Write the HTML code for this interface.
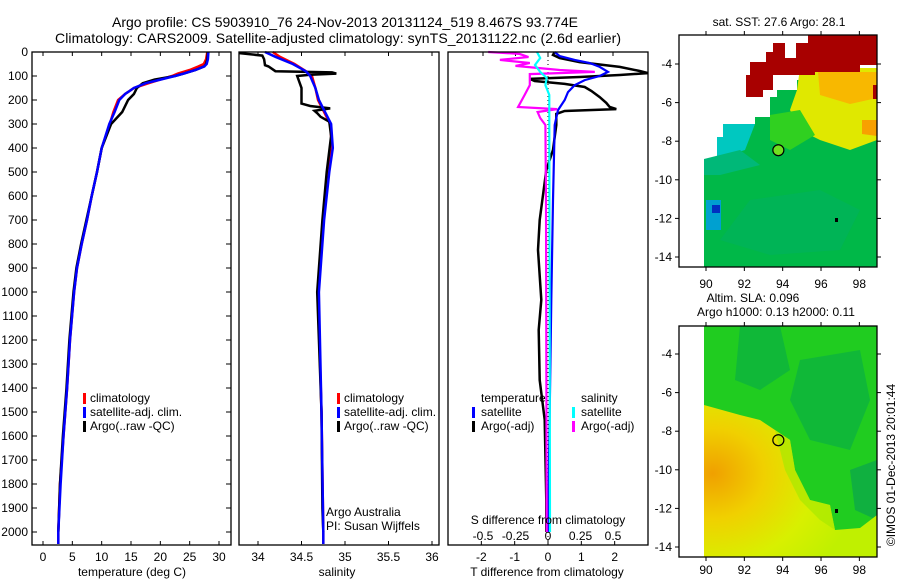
<!DOCTYPE html>
<html><head><meta charset="utf-8"><style>
body{margin:0;background:#fff;}
svg{display:block;font-family:"Liberation Sans",sans-serif;}
text{fill:#000;}
</style></head><body>
<svg id="fig" width="900" height="580" viewBox="0 0 900 580" xmlns="http://www.w3.org/2000/svg">
<text x="345" y="27" font-size="14" text-anchor="middle">Argo profile: CS 5903910_76 24-Nov-2013 20131124_519 8.467S 93.774E</text>
<text x="338" y="43" font-size="14" text-anchor="middle" textLength="566">Climatology: CARS2009. Satellite-adjusted climatology: synTS_20131122.nc (2.6d earlier)</text>
<text x="779" y="26" font-size="12" text-anchor="middle">sat. SST: 27.6 Argo: 28.1</text>
<text x="753" y="302" font-size="12" text-anchor="middle">Altim. SLA: 0.096</text>
<text x="776" y="316" font-size="12" text-anchor="middle">Argo h1000: 0.13 h2000: 0.11</text>
<text transform="translate(895,465) rotate(-90)" font-size="12" text-anchor="middle">©IMOS 01-Dec-2013 20:01:44</text>
<g id="g"></g>
</svg>
<script>
// ---- data ----
const tempDepthClim = [0,30,50,60,75,90,100,115,130,150,175,200,250,300,400,500,600,700,800,900,1000,1200,1400,1600,1800,2000,2050];
const tempClim = [28,27.8,27.4,26.5,25,23,22,20,18,15.5,14,12.8,12,11.4,10,9.2,8.3,7.5,6.6,5.8,5.3,4.6,4.1,3.5,2.9,2.6,2.6];
const tempSat = [28.2,28.1,27.9,27.5,26,24,22.5,20,17.5,15.5,14,13,12.2,11.3,10,9.2,8.3,7.5,6.6,5.8,5.3,4.6,4.1,3.5,3,2.6,2.6];
const tempDepthArgo = [0,30,50,60,75,90,100,115,130,150,175,200,250,300,400,500,600,700,800,900,1000,1200,1400,1600,1800,2000];
const tempArgo = [28.1,28,27.8,27.5,26,24,22.5,19,17,16,15.5,14.5,13.5,11.6,10,9.2,8.3,7.4,6.5,5.7,5.2,4.5,4,3.4,2.9,2.6];
const salDepthClim = [0,20,50,80,100,150,200,250,300,400,500,700,1000,1500,2000,2050];
const salClim = [34.17,34.25,34.42,34.55,34.62,34.66,34.69,34.76,34.83,34.85,34.8,34.75,34.69,34.73,34.75,34.75];
const salSat = [34.08,34.2,34.4,34.55,34.6,34.66,34.7,34.77,34.84,34.86,34.82,34.76,34.7,34.73,34.75,34.75];
const salDepthArgo = [0,5,15,30,55,60,80,85,90,95,100,150,215,225,235,245,255,270,290,350,500,700,1000,1500,1900,2000];
const salArgo = [33.8,33.8,34.05,34.07,34.08,34.12,34.2,34.85,34.9,34.6,34.45,34.5,34.5,34.6,34.83,34.65,34.68,34.72,34.82,34.84,34.79,34.74,34.68,34.73,34.74,34.75];
const tdArgoDepth = [0,12,25,42,62,79,88,96,104,112,121,133,146,162,188,212,229,238,246,258,304,408,492,700,825,1033,1158,1367,1533,1867,2000];
const tdArgo = [0.2,0.15,0.35,0.95,2.15,2.75,3.0,2.15,0.95,-0.55,-0.4,0.5,1.1,1.3,1.55,1.75,1.85,2.05,0.5,0.25,0.25,0.15,-0.05,-0.25,-0.3,-0.2,-0.28,-0.25,-0.1,-0.05,-0.05];
const tdSatDepth = [0,17,33,46,62,83,100,117,138,167,200,242,304,617,1033,2000];
const tdSat = [0.2,0.35,0.8,1.25,1.55,1.8,1.55,1.1,0.8,0.6,0.5,0.3,0.2,0.15,0.1,0];
const sdArgoDepth = [0,8,21,33,46,58,75,83,92,108,138,179,229,238,250,275,304,617,2000];
const sdArgo = [-0.46,-0.22,-0.15,-0.37,-0.14,-0.25,0.09,0.36,-0.14,-0.14,-0.14,-0.18,-0.23,0.07,-0.08,-0.06,-0.02,-0.015,-0.01];
const sdSatDepth = [0,25,54,83,108,138,179,283,2000];
const sdSat = [-0.085,-0.06,-0.1,-0.06,-0.01,-0.02,0.01,0.01,0.015];
const depthTicks = [0,100,200,300,400,500,600,700,800,900,1000,1100,1200,1300,1400,1500,1600,1700,1800,1900,2000];
const tempTicks = [0,5,10,15,20,25,30];
const salTicks = ["34","34.5","35","35.5","36"];
const tdTicks = [-2,-1,0,1,2];
const sdTicks = ["-0.5","-0.25","0","0.25","0.5"];
const lonTicks = [90,92,94,96,98];
const latTicks = [-4,-6,-8,-10,-12,-14];
const argoLon = 93.774, argoLat = -8.467;

// ---- scales ----
const yD = d => 52 + d*0.24;
const xT = t => 43 + t*5.867;
const xS = s => 258 + (s-34)*87;
const xTd = v => 548 + v*33.33;
const xSd = v => 548 + v*130;
const mx = lon => 706 + (lon-90)*19.17;
const my1 = la => 64 + (-4-la)*19.3;
const my2 = la => 354 + (-4-la)*19.3;

const NS="http://www.w3.org/2000/svg", G=document.getElementById('g');
function el(tag, attrs, parent){const e=document.createElementNS(NS,tag);for(const k in attrs)e.setAttribute(k,attrs[k]);(parent||G).appendChild(e);return e;}
function txt(x,y,s,anchor,size){const t=el('text',{x:x,y:y,'font-size':size||12,'text-anchor':anchor||'start'});t.textContent=s;return t;}
function line(xs,ds,xf,color,w,name){
  const pts=xs.map((v,i)=>xf(v).toFixed(1)+','+yD(ds[i]).toFixed(1)).join(' ');
  const p=el('polyline',{points:pts,fill:'none',stroke:color,'stroke-width':w||2.5,'stroke-linejoin':'miter'});
  
  
}

// ---- maps ----
function sstMap(){
  const gm=el('g',{});
  
  
  el('polygon',{points:'704,159 717,159 717,137 723,137 723,124 755,124 755,117 770,117 770,97 777,97 777,90 797,90 797,80 877,80 877,267 704,267',fill:'#00b848'},gm);
  el('polygon',{points:'800,68 877,68 877,140 850,150 820,140 800,130 790,110 797,90',fill:'#e0e800'},gm);
  el('polygon',{points:'818,72 877,72 877,98 850,104 820,95',fill:'#f8b800'},gm);
  el('polygon',{points:'862,120 877,120 877,136 862,134',fill:'#f8a000'},gm);
  el('polygon',{points:'770,115 800,110 815,135 790,150 770,140',fill:'#30d020'},gm);
  el('polygon',{points:'723,124 755,124 745,150 717,159 717,137 723,137',fill:'#00c8c0'},gm);
  el('polygon',{points:'704,159 740,150 760,165 720,175 704,175',fill:'#00b878'},gm);
  el('rect',{x:706,y:200,width:15,height:30,fill:'#00a0d0'},gm);
  el('rect',{x:712,y:205,width:8,height:8,fill:'#0030c0'},gm);
  el('polygon',{points:'750,200 820,190 860,210 840,250 770,255 720,240',fill:'#00b060',opacity:0.6},gm);
  el('polygon',{points:'750,62 766,62 766,52 773,52 773,43 785,43 785,58 796,58 796,43 808,43 808,35 877,35 877,65 860,65 860,72 815,72 815,75 773,75 773,90 763,90 763,97 746,97 746,75 750,75',fill:'#a80000'},gm);
  el('rect',{x:873,y:85,width:4,height:14,fill:'#a80000'},gm);
  const c=el('circle',{cx:mx(argoLon),cy:my1(argoLat),r:5.5,fill:'#70e020',stroke:'#000','stroke-width':1.2});
  
  
  el('rect',{x:835,y:218,width:3,height:4,fill:'#000'});
}
function slaMap(){
  const gm=el('g',{});
  
  
  const defs=el('defs',{});
  const rg=el('radialGradient',{id:'rg',cx:'0.05',cy:'0.45',r:'0.85'},defs);
  el('stop',{offset:'0','stop-color':'#f0a000'},rg);
  el('stop',{offset:'0.35','stop-color':'#f0d000'},rg);
  el('stop',{offset:'0.7','stop-color':'#d8f000'},rg);
  el('stop',{offset:'1','stop-color':'#c0f000'},rg);
  el('rect',{x:704,y:326,width:173,height:231,fill:'#20cc20'},gm);
  el('polygon',{points:'740,326 780,326 790,370 760,390 735,380',fill:'#10b838'},gm);
  el('polygon',{points:'800,360 860,350 870,400 850,450 810,440 790,400',fill:'#10b838'},gm);
  el('polygon',{points:'850,470 877,460 877,520 855,510',fill:'#10b040'},gm);
  el('polygon',{points:'704,405 740,415 760,420 775,430 790,440 795,470 805,490 810,500 830,505 835,530 860,528 877,515 877,557 704,557',fill:'url(#rg)'},gm);
  el('polygon',{points:'775,430 790,440 795,470 805,490 810,500 830,505 835,530 820,520 800,500 785,470',fill:'#a8e800',opacity:0.7},gm);
  const c=el('circle',{cx:mx(argoLon),cy:my2(argoLat),r:5.5,fill:'none',stroke:'#000','stroke-width':1.2});
  
  
  el('rect',{x:835,y:509,width:3,height:4,fill:'#000'});
}
sstMap(); slaMap();

function frame(x,y,w,h,name){
  const r=el('rect',{x:x,y:y,width:w,height:h,fill:'none',stroke:'#000','stroke-width':1.3});
  
  
}
function mapAxes(top,bot,myf,labY){
  lonTicks.forEach(v=>{const x=mx(v);
    el('line',{x1:x,y1:top,x2:x,y2:top-4,stroke:'#000'});
    el('line',{x1:x,y1:bot,x2:x,y2:bot+4,stroke:'#000'});
    const t=txt(x,labY,String(v),'middle');
    
    });
  latTicks.forEach(v=>{const y=myf(v);
    el('line',{x1:679,y1:y,x2:675,y2:y,stroke:'#000'});
    el('line',{x1:877,y1:y,x2:881,y2:y,stroke:'#000'});
    const t=txt(672,y+4,String(v),'end');
    
    });
}
frame(679,35,198,232,'sst-map-frame'); mapAxes(35,267,my1,288);
frame(679,326,198,231,'sla-map-frame'); mapAxes(326,557,my2,574);

// ---- profile panels ----
const P1={l:32,r:231}, P2={l:239,r:439}, P3={l:448,r:648}, TOP=52, BOT=545;
depthTicks.forEach(d=>{const y=yD(d);
  el('line',{x1:P1.l,y1:y,x2:P1.l+5,y2:y,stroke:'#000'});
  el('line',{x1:P1.r,y1:y,x2:P1.r-5,y2:y,stroke:'#000'});
  const t=txt(28,y+4,String(d),'end');
  
  });
tempTicks.forEach(v=>{const x=xT(v);
  el('line',{x1:x,y1:TOP,x2:x,y2:TOP+4,stroke:'#000'});
  el('line',{x1:x,y1:BOT,x2:x,y2:BOT-4,stroke:'#000'});
  const t=txt(x,561,String(v),'middle');
  
  });
salTicks.forEach(v=>{const x=xS(parseFloat(v));
  el('line',{x1:x,y1:TOP,x2:x,y2:TOP+4,stroke:'#000'});
  el('line',{x1:x,y1:BOT,x2:x,y2:BOT-4,stroke:'#000'});
  const t=txt(x,561,v,'middle');
  
  });
tdTicks.forEach(v=>{const x=xTd(v);
  el('line',{x1:x,y1:BOT,x2:x,y2:BOT-4,stroke:'#000'});
  const t=txt(x,561,String(v),'middle');
  
  });
sdTicks.forEach(v=>{const x=xSd(parseFloat(v));
  el('line',{x1:x,y1:TOP,x2:x,y2:TOP+4,stroke:'#000'});
  const t=txt(x,540,v,'middle');
  
  });
el('line',{x1:xTd(0),y1:TOP,x2:xTd(0),y2:BOT,stroke:'#000','stroke-dasharray':'1,3'});

line(tempClim,tempDepthClim,xT,'#f00',2.5,'temp-climatology-line');
line(tempArgo,tempDepthArgo,xT,'#000',2.5,'temp-argo-line');
line(tempSat,tempDepthClim,xT,'#00f',2.5,'temp-satellite-line');
line(salClim,salDepthClim,xS,'#f00',2.5,'sal-climatology-line');
line(salArgo,salDepthArgo,xS,'#000',2.5,'sal-argo-line');
line(salSat,salDepthClim,xS,'#00f',2.5,'sal-satellite-line');
line(tdArgo,tdArgoDepth,xTd,'#000',2.5,'t-diff-argo-line');
line(tdSat,tdSatDepth,xTd,'#00f',2.2,'t-diff-satellite-line');
line(sdArgo,sdArgoDepth,xSd,'#f0f',2.2,'s-diff-argo-line');
line(sdSat,sdSatDepth,xSd,'#0ff',2.2,'s-diff-satellite-line');

frame(P1.l,TOP,P1.r-P1.l,BOT-TOP,'temperature-panel-frame');
frame(P2.l,TOP,P2.r-P2.l,BOT-TOP,'salinity-panel-frame');
frame(P3.l,TOP,P3.r-P3.l,BOT-TOP,'difference-panel-frame');

function legend(mxp,tx,y,color,label,name){
  el('rect',{x:mxp,y:y-9,width:3,height:11,fill:color});
  const t=txt(tx,y,label,'start');
  
  
}
legend(83,90,402,'#f00','climatology','legend-climatology');
legend(83,90,416,'#00f','satellite-adj. clim.','legend-satellite');
legend(83,90,430,'#000','Argo(..raw -QC)','legend-argo');
legend(337,344,402,'#f00','climatology','legend-sal-climatology');
legend(337,344,416,'#00f','satellite-adj. clim.','legend-sal-satellite');
legend(337,344,430,'#000','Argo(..raw -QC)','legend-sal-argo');
let t;
t=txt(481,402,'temperature');  
t=txt(581,402,'salinity');  
legend(472,481,416,'#00f','satellite','legend-t-satellite');
legend(472,481,430,'#000','Argo(-adj)','legend-t-argo');
legend(572,581,416,'#0ff','satellite','legend-s-satellite');
legend(572,581,430,'#f0f','Argo(-adj)','legend-s-argo');
t=txt(326,516,'Argo Australia');  
t=txt(326,530,'PI: Susan Wijffels');  
t=txt(548,524,'S difference from climatology','middle');  
t=txt(132,576,'temperature (deg C)','middle');  
t=txt(337,576,'salinity','middle');  
t=txt(547,576,'T difference from climatology','middle');  
</script>
</body></html>
